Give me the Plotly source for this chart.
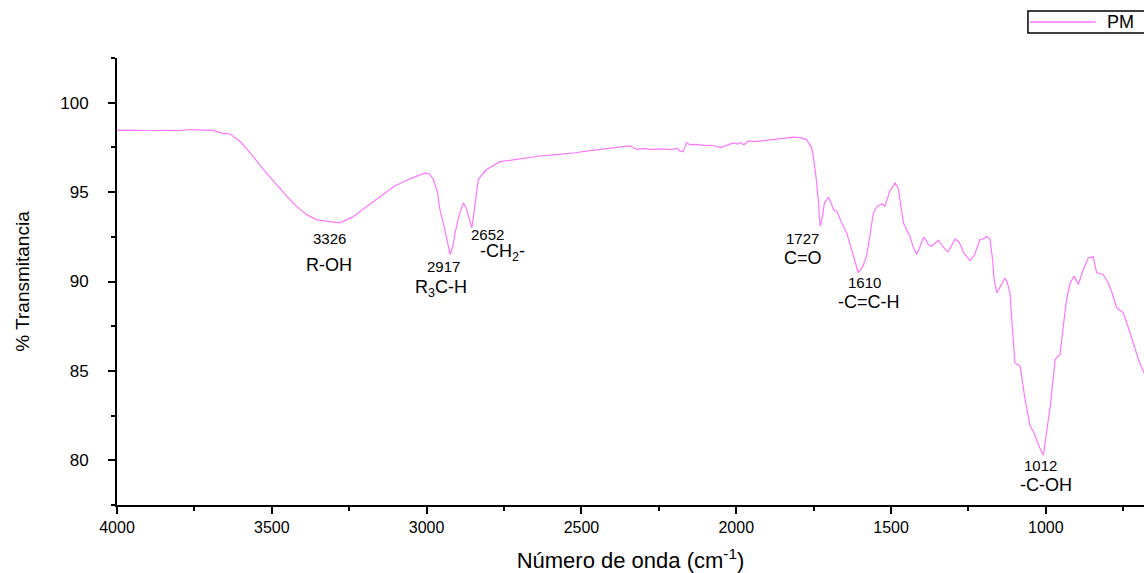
import plotly.graph_objects as go

# Wavenumber (cm^-1) and % transmittance
wavenumber = [
    4000, 3950, 3900, 3850, 3800, 3760, 3720, 3690, 3660, 3635, 3603, 3565, 3527, 3490,
    3452, 3420, 3387, 3355, 3323, 3280, 3240, 3194, 3150, 3108, 3060, 3020, 3005, 2990,
    2978, 2965, 2957, 2940, 2924, 2915, 2908, 2895, 2881, 2872, 2865, 2854, 2849, 2844,
    2833, 2820, 2806, 2763, 2700, 2634, 2580, 2520, 2460, 2400, 2360, 2343, 2330, 2321,
    2300, 2278, 2240, 2210, 2190, 2182, 2172, 2165, 2160, 2150, 2128, 2100, 2080, 2051,
    2030, 2009, 1995, 1988, 1975, 1961, 1940, 1910, 1880, 1850, 1816, 1795, 1773, 1757,
    1751, 1742, 1735, 1729, 1722, 1715, 1702, 1694, 1686, 1675, 1660, 1643, 1625, 1606,
    1592, 1579, 1567, 1557, 1545, 1536, 1528, 1520, 1510, 1504, 1487, 1477, 1468, 1460,
    1450, 1439, 1428, 1417, 1406, 1396, 1390, 1380, 1369, 1352, 1347, 1335, 1320, 1315,
    1300, 1293, 1280, 1265, 1245, 1230, 1213, 1200, 1191, 1180, 1172, 1167, 1158, 1145,
    1132, 1124, 1116, 1108, 1100, 1092, 1083, 1068, 1051, 1040, 1035, 1020, 1008, 1000,
    986, 970, 954, 943, 933, 922, 909, 895, 879, 863, 847, 836, 815, 799, 785, 771,
    750, 735, 717, 701, 683, 670,
]
transmittance = [
    98.45, 98.47, 98.43, 98.46, 98.44, 98.50, 98.47, 98.45, 98.30, 98.25, 97.84, 97.10, 96.26, 95.50,
    94.77, 94.20, 93.74, 93.45, 93.37, 93.28, 93.60, 94.20, 94.75, 95.29, 95.70, 96.00, 96.07, 96.00,
    95.70, 95.00, 94.02, 92.80, 91.51, 92.00, 92.72, 93.70, 94.40, 94.10, 93.65, 93.00, 93.60, 94.20,
    95.70, 96.00, 96.26, 96.70, 96.85, 97.02, 97.10, 97.20, 97.35, 97.45, 97.55, 97.58, 97.45, 97.39,
    97.45, 97.39, 97.42, 97.38, 97.45, 97.30, 97.25, 97.60, 97.77, 97.65, 97.67, 97.60, 97.62, 97.49,
    97.60, 97.75, 97.68, 97.77, 97.65, 97.86, 97.82, 97.88, 97.95, 98.00, 98.08, 98.05, 97.95, 97.49,
    97.00, 95.80, 94.58, 93.09, 93.60, 94.40, 94.70, 94.40, 94.02, 93.93, 93.30, 92.72, 91.60, 90.49,
    90.80, 91.41, 92.70, 93.84, 94.20, 94.30, 94.35, 94.20, 94.80, 95.05, 95.51, 95.23, 94.20, 93.28,
    92.90, 92.53, 91.90, 91.51, 91.97, 92.44, 92.40, 92.07, 91.97, 92.25, 92.31, 92.00, 91.69, 91.66,
    92.20, 92.38, 92.20, 91.60, 91.17, 91.50, 92.35, 92.40, 92.53, 92.35, 91.20, 90.10, 89.37, 89.80,
    90.20, 89.90, 89.37, 87.40, 85.46, 85.35, 85.27, 83.50, 81.92, 81.60, 81.36, 80.70, 80.28, 81.20,
    83.00, 85.64, 85.92, 87.60, 88.99, 89.90, 90.30, 89.83, 90.67, 91.32, 91.38, 90.49, 90.39, 89.93,
    89.30, 88.53, 88.25, 87.50, 86.58, 85.64, 84.90, 84.20,
]
series_name = "PM"

# Peak annotations
peak_labels = ["3326", "2917", "2652", "1727", "1610", "1012"]
peak_label_x = [3315, 2944, 2802, 1787, 1587, 1016]
peak_label_y = [92.40, 90.84, 92.63, 92.40, 89.94, 79.72]
group_labels = ["R-OH", "R<sub>3</sub>C-H", "-CH<sub>2</sub>-", "C=O", "-C=C-H", "-C-OH"]
group_label_x = [3315, 2953, 2756, 1784, 1571, 1000]
group_label_y = [90.95, 89.61, 91.62, 91.34, 88.83, 78.60]

FONT = "Liberation Sans, Arial, sans-serif"
LINE_COLOR = "#ff77ff"

fig = go.Figure()
fig.add_trace(go.Scatter(
    x=wavenumber, y=transmittance, mode="lines", name=series_name,
    line=dict(color=LINE_COLOR, width=1.2), showlegend=False,
))

for t, x, y in zip(peak_labels, peak_label_x, peak_label_y):
    fig.add_annotation(x=x, y=y, text=t, showarrow=False,
                       font=dict(family=FONT, size=15, color="black"))
for t, x, y in zip(group_labels, group_label_x, group_label_y):
    fig.add_annotation(x=x, y=y, text=t, showarrow=False,
                       font=dict(family=FONT, size=18, color="black"))

# Compact legend box (top-right, partially cut by the figure edge as in the original)
fig.add_shape(type="rect", xref="paper", yref="paper",
              x0=0.887, x1=1.02, y0=1.056, y1=1.105,
              line=dict(color="black", width=1.5), fillcolor="white", layer="above")
fig.add_shape(type="line", xref="paper", yref="paper",
              x0=0.889, x1=0.953, y0=1.0805, y1=1.0805,
              line=dict(color=LINE_COLOR, width=1.5), layer="above")
fig.add_annotation(xref="paper", yref="paper", x=0.962, y=1.0805,
                   xanchor="left", yanchor="middle", text=series_name, showarrow=False,
                   font=dict(family=FONT, size=18, color="black"))

fig.update_layout(
    width=1144, height=573,
    margin=dict(l=117, r=0, t=58, b=68),
    paper_bgcolor="white", plot_bgcolor="white",
    font=dict(family=FONT, color="black"),
    showlegend=False,
    xaxis=dict(
        range=[4000, 683], tickmode="linear", tick0=0, dtick=500,
        showgrid=False, zeroline=False,
        showline=True, linecolor="black", linewidth=2,
        ticks="outside", ticklen=7, tickwidth=2, tickcolor="black",
        minor=dict(dtick=250, ticks="outside", ticklen=4, tickwidth=2, tickcolor="black"),
        tickfont=dict(family=FONT, size=16, color="black"),
        title=dict(text="Número de onda (cm<sup>-1</sup>)",
                   font=dict(family=FONT, size=22, color="black"), standoff=18),
    ),
    yaxis=dict(
        range=[77.5, 102.5], tickmode="linear", tick0=0, dtick=5,
        showgrid=False, zeroline=False,
        showline=True, linecolor="black", linewidth=2,
        ticks="outside", ticklen=7, tickwidth=2, tickcolor="black",
        ticklabelstandoff=16,
        minor=dict(dtick=2.5, ticks="outside", ticklen=4, tickwidth=2, tickcolor="black"),
        tickfont=dict(family=FONT, size=17, color="black"),
        title=dict(text="% Transmitancia",
                   font=dict(family=FONT, size=19, color="black"), standoff=26),
    ),
)

# Remove the default page margin so the figure sits at the window's top-left corner
fig.write_html(
    "out.html",
    config={"displayModeBar": False},
    post_script="document.body.style.margin='0';document.body.style.overflow='hidden';",
)
